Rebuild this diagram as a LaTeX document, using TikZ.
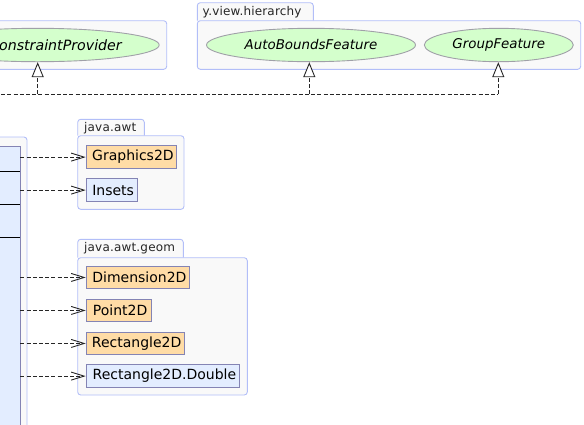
\documentclass[tikz,border=0pt]{standalone}
\usepackage{fontspec}
\setmainfont{DejaVu Sans}
\newfontfamily\clsfont{DejaVu Sans}
\newfontfamily\ifcfont{DejaVu Sans Oblique}
\newfontfamily\tabfont[LetterSpace=1.5]{DejaVu Sans}
\usetikzlibrary{arrows.meta,shapes.geometric}
\definecolor{pkgfill}{HTML}{F9F9F9}
\definecolor{pkgline}{HTML}{B2BEF8}
\definecolor{clsline}{HTML}{8484B4}
\definecolor{orangefill}{HTML}{FFDCA6}
\definecolor{bluefill}{HTML}{E3EDFF}
\definecolor{greenfill}{HTML}{D4FFCC}
\definecolor{ellline}{HTML}{A0A0A8}
\tikzset{
  pkg/.style={draw=pkgline, fill=pkgfill, line width=0.9pt, rounded corners=3pt},
  tablabel/.style={font=\tabfont\fontsize{12}{13}\selectfont, anchor=west, inner sep=0pt, text=black!85},
  cls/.style={draw=clsline, line width=0.9pt, inner sep=0pt, anchor=north west,
    font=\clsfont\fontsize{14}{15}\selectfont, text=black,
    execute at begin node={\hspace*{3pt}}},
  ext/.style={cls, fill=orangefill},
  loc/.style={cls, fill=bluefill},
  iface/.style={ellipse, draw=ellline, fill=greenfill, line width=0.9pt, inner sep=0pt,
    font=\ifcfont\fontsize{13.4}{15}\selectfont},
  dashln/.style={draw=black!85, line width=0.9pt, dash pattern=on 4pt off 2.2pt},
  uses/.style={dashln, -{Straight Barb[length=13pt,width=8pt,line width=0.9pt]}},
  realize/.style={dashln, -{Triangle[open, length=15pt, width=12pt, fill=white, line width=0.9pt]}},
  sep/.style={draw=black, line width=0.9pt}
}
\begin{document}
\begin{tikzpicture}[x=1pt,y=-1pt]
\useasboundingbox (0,0) rectangle (584,424);
% top-left package (partly outside)
\draw[pkg] (-30,20.7) rectangle (166.7,69.3);
% y.view.hierarchy package
\draw[pkg] (197.3,20.7) -- (197.3,2.7) -- (313.3,2.7) -- (313.3,20.7);
\draw[pkg] (197.3,20.7) rectangle (580.7,69.3);
\node[tablabel] (tabh) at (202.5,12) {y.view.hierarchy};
% java.awt package
\draw[pkg] (77.7,135.7) -- (77.7,119.3) -- (144.3,119.3) -- (144.3,135.7);
\draw[pkg] (77.7,135.7) rectangle (184,209.3);
\node[tablabel] (tabawt) at (84,128.5) {java.awt};
% java.awt.geom package
\draw[pkg] (77.7,257.7) -- (77.7,239.3) -- (183.3,239.3) -- (183.3,257.7);
\draw[pkg] (77.7,257.7) rectangle (247.3,395);
\node[tablabel] (tabgeom) at (84,248.5) {java.awt.geom};
% left package and class (partly outside)
\draw[pkg] (-30,137) rectangle (27,450);
\node[loc, minimum width=50pt, minimum height=310pt] (main) at (-30.5,145.7) {};
\draw[sep] (-30,171) -- (19.5,171);
\draw[sep] (-30,204.3) -- (19.5,204.3);
\draw[sep] (-30,237.7) -- (19.5,237.7);
% interfaces
\node[iface, minimum width=243pt, minimum height=33.4pt] (csp) at (37.7,45) {};
\node[font=\ifcfont\fontsize{14.2}{15}\selectfont, anchor=east, inner sep=0pt] (csplabel) at (122,45.5) {ConstraintProvider};
\node[iface, minimum width=209pt, minimum height=33.4pt] (abf) at (311,45) {AutoBoundsFeature};
\node[iface, minimum width=149pt, minimum height=33.4pt] (gf) at (498.8,45) {GroupFeature};
% classes
\node[ext, minimum width=90.6pt, minimum height=23.3pt] (g2d) at (85.7,145) {Graphics2D};
\node[loc, minimum width=51pt, minimum height=22.7pt] (ins) at (85.7,178.3) {Insets};
\node[ext, minimum width=103.6pt, minimum height=22.6pt] (dim) at (85.7,265.7) {Dimension2D};
\node[ext, minimum width=65pt, minimum height=22.6pt] (pt) at (85.7,298.7) {Point2D};
\node[ext, minimum width=98pt, minimum height=22.6pt] (rect) at (85.7,331.7) {Rectangle2D};
\node[loc, minimum width=153.6pt, minimum height=22.7pt] (rectd) at (85.7,364.3) {Rectangle2D.Double};
% realization edges
\coordinate (j1) at (37.7,94);
\coordinate (j2) at (309.3,94);
\coordinate (j3) at (498.3,94);
\coordinate (jl) at (-5,94);
\draw[dashln] (jl) -- (j3);
\draw[realize] (j1) -- (j1 |- csp.south);
\draw[realize] (j2) -- (j2 |- abf.south);
\draw[realize] (j3) -- (j3 |- gf.south);
% usage edges
\draw[uses] (main.east |- g2d.west) -- (g2d.west);
\draw[uses] (main.east |- ins.west) -- (ins.west);
\draw[uses] (main.east |- dim.west) -- (dim.west);
\draw[uses] (main.east |- pt.west) -- (pt.west);
\draw[uses] (main.east |- rect.west) -- (rect.west);
\draw[uses] (main.east |- rectd.west) -- (rectd.west);
\end{tikzpicture}
\end{document}
